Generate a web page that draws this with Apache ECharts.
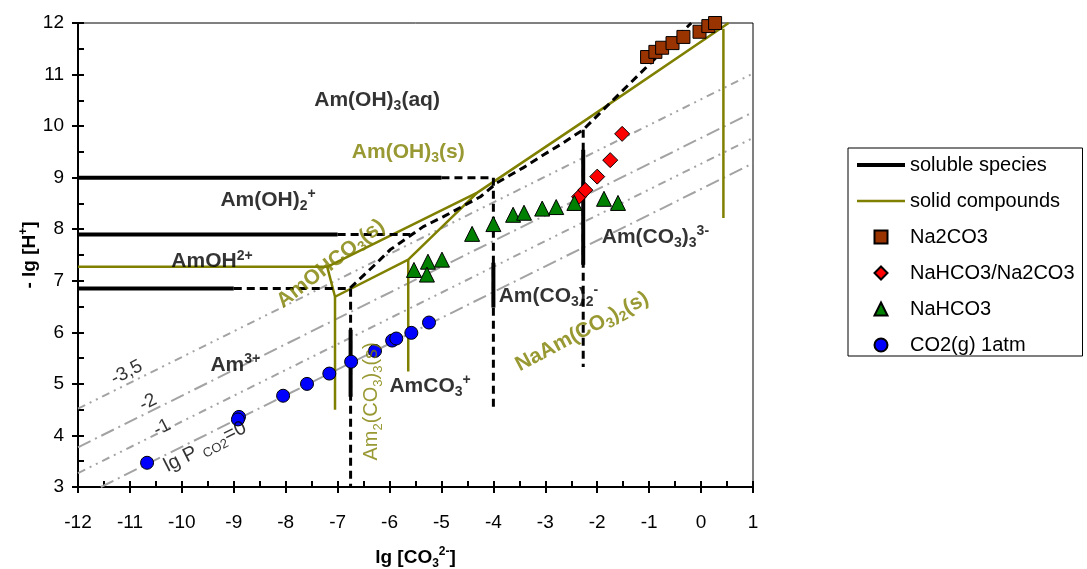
<!DOCTYPE html>
<html>
<head>
<meta charset="utf-8">
<script src="https://cdn.jsdelivr.net/npm/echarts@6/dist/echarts.min.js"></script>
<style>
html,body{margin:0;padding:0;background:#fff;}
#chart{width:1087px;height:569px;}
</style>
</head>
<body>
<div id="chart"></div>
<script>
// Axis ranges: x = lg[CO3 2-], y = -lg[H+]
const xRange = [-12, 1];
const yRange = [3, 12];

// Measured points
const na2co3 = [[-1.04,11.34],[-0.88,11.44],[-0.75,11.52],[-0.55,11.61],[-0.34,11.73],[-0.03,11.83],[0.14,11.94],[0.27,12.0]];
const nahco3Na2co3 = [[-2.35,8.63],[-2.23,8.76],[-2.00,9.02],[-1.75,9.34],[-1.52,9.85]];
const nahco3 = [[-5.53,7.21],[-5.26,7.37],[-4.99,7.41],[-5.28,7.12],[-4.41,7.91],[-4.00,8.10],[-3.62,8.28],[-3.41,8.32],[-3.06,8.40],[-2.79,8.43],[-2.44,8.51],[-1.87,8.59],[-1.60,8.51]];
const co2Gas = [[-10.67,3.47],[-8.90,4.36],[-8.92,4.31],[-8.05,4.77],[-7.59,5.00],[-7.16,5.20],[-6.74,5.43],[-6.28,5.64],[-5.95,5.84],[-5.87,5.88],[-5.58,5.99],[-5.24,6.19]];

// Predominance boundaries of dissolved species (solid parts)
const solubleSolid = [
  [[-12,9.0],[-5.0,9.0]],
  [[-12,7.9],[-7.0,7.9]],
  [[-12,6.85],[-9.0,6.85]],
  [[-6.75,6.05],[-6.75,4.75]],
  [[-4.0,7.35],[-4.0,6.48]],
  [[-2.27,9.54],[-2.27,7.31]]
];
// Predominance boundaries of dissolved species (dashed parts)
const solubleDashed = [
  [[-5.0,9.0],[-4.0,9.0],[-4.0,4.5]],
  [[-7.0,7.9],[-5.6,7.9]],
  [[-9.0,6.85],[-6.75,6.85],[-6.75,3.0]],
  [[-2.27,9.93],[-2.27,5.33]],
  [[-6.76,6.86],[-6.24,7.35],[-5.99,7.60],[-5.35,8.05],[-4.97,8.24],[-4.25,8.63],[-3.93,8.90],[-3.43,9.19],[-3.04,9.44],[-2.71,9.64],[-2.27,9.93],[-1.69,10.51],[-0.19,12.0]]
];
// Stability fields of solid phases
const solidCompounds = [
  [[-12,7.27],[-7.2,7.27],[-4.31,8.71],[-2.19,10.14],[0.53,12.0]],
  [[-7.2,7.27],[-7.05,6.69],[-5.64,7.41],[-4.31,8.71]],
  [[-7.05,6.69],[-7.05,4.5]],
  [[-5.64,7.41],[-5.64,5.24]],
  [[0.43,11.89],[0.43,8.22]]
];
// Iso-lines of CO2 partial pressure (lg P values and end points)
const pco2Levels = ['-3.5','-2','-1','0'];
const pco2Lines = [
  [[-12,4.52],[1,11.02]],
  [[-12,3.77],[1,10.27]],
  [[-12,3.27],[1,9.77]],
  [[-11.56,3.0],[1,9.28]]
];

const F = 'Liberation Sans, Arial, Helvetica, sans-serif';
const OLIVE = '#808000';
const GRAY = '#a3a3a3';

function richSet(color, weight, size) {
  return {
    m: {fontFamily:F, fontWeight:weight, fontSize:size, color:color, lineHeight:26, verticalAlign:'middle'},
    s: {fontFamily:F, fontWeight:weight, fontSize:Math.round(size*0.65), color:color, lineHeight:12, verticalAlign:'bottom'},
    p: {fontFamily:F, fontWeight:weight, fontSize:Math.round(size*0.65), color:color, lineHeight:12, verticalAlign:'top'}
  };
}

// Field and line annotations: [x, y, rich text, colour, weight, size, rotation]
const annotations = [
  [-6.24,10.51,'{m|Am(OH)}{s|3}{m|(aq)}','#000','bold',21,0],
  [-5.64,9.50,'{m|Am(OH)}{s|3}{m|(s)}',OLIVE,'bold',21,0],
  [-8.34,8.57,'{m|Am(OH)}{s|2}{p|+}','#000','bold',21,0],
  [-9.42,7.37,'{m|AmOH}{p|2+}','#000','bold',21,0],
  [-8.97,5.37,'{m|Am}{p|3+}','#000','bold',21,0],
  [-5.22,4.95,'{m|AmCO}{s|3}{p|+}','#000','bold',21,0],
  [-2.94,6.71,'{m|Am(CO}{s|3}{m|)}{s|2}{p|-}','#000','bold',21,0],
  [-0.88,7.85,'{m|Am(CO}{s|3}{m|)}{s|3}{p|3-}','#000','bold',21,0],
  [-7.13,7.33,'{m|AmOHCO}{s|3}{m|(s)}',OLIVE,'bold',21,38],
  [-6.34,4.66,'{m|Am}{s|2}{m|(CO}{s|3}{m|)}{s|3}{m|(s)}',OLIVE,'normal',20,90],
  [-2.29,6.01,'{m|NaAm(CO}{s|3}{m|)}{s|2}{m|(s)}',OLIVE,'bold',21,28],
  [-11.06,5.22,'{m|-3,5}','#000','normal',19,27],
  [-10.65,4.64,'{m|-2}','#000','normal',19,27],
  [-10.38,4.15,'{m|-1}','#000','normal',19,27],
  [-9.55,3.78,'{m|lg P }{s|CO2}{m|=0}','#000','normal',20,27]
];

// Legend icon outlines (unit shapes, kept square in the legend)
const ICON_SQUARE = 'path://M0,0L10,0L10,10L0,10Z';
const ICON_DIAMOND = 'path://M5,0L10,5L5,10L0,5Z';
const ICON_TRIANGLE = 'path://M5,0L10,10L0,10Z';
const ICON_CIRCLE = 'path://M0,5A5,5 0 1 1 10,5A5,5 0 1 1 0,5Z';

const chart = echarts.init(document.getElementById('chart'), null, {renderer:'canvas'});

const series = [];
const pco2Dash = [[8,5,2,5,2,5],[14,5,2,5],[8,5,2,5,2,5],[14,5,2,5]];
pco2Lines.forEach((pts, i) => {
  series.push({
    type:'line', name:'lg P CO2 ' + pco2Levels[i], data:pts, symbol:'none', silent:true, z:1,
    lineStyle:{color:GRAY, width:2, type:pco2Dash[i]}
  });
});
solidCompounds.forEach(pts => {
  series.push({
    type:'line', name:'solid compounds', data:pts, symbol:'none', silent:true, z:2,
    lineStyle:{color:OLIVE, width:2.5}, itemStyle:{color:OLIVE}
  });
});
solubleDashed.forEach(pts => {
  series.push({
    type:'line', name:'soluble boundary', data:pts, symbol:'none', silent:true, z:3,
    lineStyle:{color:'#000', width:3, type:[8,5]}
  });
});
solubleSolid.forEach(pts => {
  series.push({
    type:'line', name:'soluble species', data:pts, symbol:'none', silent:true, z:4,
    lineStyle:{color:'#000', width:4}, itemStyle:{color:'#000'}
  });
});
const markerBorder = {borderColor:'#000', borderWidth:1};
series.push({type:'scatter', name:'Na2CO3', data:na2co3, symbol:'rect', symbolSize:13, clip:false, z:6,
  itemStyle:Object.assign({color:'#993300', opacity:1}, markerBorder)});
series.push({type:'scatter', name:'NaHCO3/Na2CO3', data:nahco3Na2co3, symbol:'diamond', symbolSize:15, clip:false, z:6,
  itemStyle:Object.assign({color:'#ff0000', opacity:1}, markerBorder)});
series.push({type:'scatter', name:'NaHCO3', data:nahco3, symbol:'triangle', symbolSize:15, clip:false, z:6,
  itemStyle:Object.assign({color:'#008000', opacity:1}, markerBorder)});
series.push({type:'scatter', name:'CO2(g) 1atm', data:co2Gas, symbol:'circle', symbolSize:13, clip:false, z:6,
  itemStyle:Object.assign({color:'#0000ff', opacity:1}, markerBorder)});

series.push({
  type:'scatter', name:'annotations', symbolSize:0, silent:true, clip:false, z:8,
  data: annotations.map(a => ({
    value:[a[0], a[1]],
    label:{show:true, position:'inside', color:a[3], formatter:a[2], rotate:a[6], rich:richSet(a[3], a[4], a[5])}
  }))
});

const axisCommon = {type:'value', splitLine:{show:false}, axisPointer:{show:false}};
const xMain = Object.assign({}, axisCommon, {
  position:'bottom', min:xRange[0], max:xRange[1], interval:1,
  axisLine:{show:true, onZero:false, lineStyle:{color:'#000', width:2}},
  axisTick:{show:true, inside:false, length:6, lineStyle:{color:'#000', width:2}},
  axisLabel:{show:true, margin:26, color:'#000', fontFamily:F, fontSize:19},
  name:'{n|lg [CO}{s|3}{p|2-}{n|]}', nameLocation:'middle', nameGap:59, nameMoveOverlap:false,
  nameTextStyle:{rich:{
    n:{fontFamily:F, fontWeight:'bold', fontSize:19, color:'#000', lineHeight:24, verticalAlign:'middle'},
    s:{fontFamily:F, fontWeight:'bold', fontSize:12, color:'#000', lineHeight:12, verticalAlign:'bottom'},
    p:{fontFamily:F, fontWeight:'bold', fontSize:12, color:'#000', lineHeight:12, verticalAlign:'top'}
  }}
});
const xInner = Object.assign({}, axisCommon, {
  position:'bottom', min:xRange[0], max:xRange[1], interval:1,
  axisLine:{show:false, onZero:false},
  axisTick:{show:true, inside:true, length:6, lineStyle:{color:'#000', width:2}},
  minorTick:{show:true, splitNumber:2, length:6, lineStyle:{color:'#000', width:2}},
  axisLabel:{show:false}
});
const yMain = Object.assign({}, axisCommon, {
  position:'left', min:yRange[0], max:yRange[1], interval:1,
  axisLine:{show:true, onZero:false, lineStyle:{color:'#000', width:2}},
  axisTick:{show:true, inside:false, length:6, lineStyle:{color:'#000', width:2}},
  axisLabel:{show:true, margin:14, color:'#000', fontFamily:F, fontSize:19},
  name:'{n|- lg [H}{p|+}{n|]}', nameLocation:'middle', nameGap:36, nameRotate:90, nameMoveOverlap:false,
  nameTextStyle:{rich:{
    n:{fontFamily:F, fontWeight:'bold', fontSize:19, color:'#000', lineHeight:24, verticalAlign:'middle'},
    p:{fontFamily:F, fontWeight:'bold', fontSize:12, color:'#000', lineHeight:12, verticalAlign:'top'}
  }}
});
const yInner = Object.assign({}, axisCommon, {
  position:'left', min:yRange[0], max:yRange[1], interval:1,
  axisLine:{show:false, onZero:false},
  axisTick:{show:true, inside:true, length:6, lineStyle:{color:'#000', width:2}},
  minorTick:{show:true, splitNumber:2, length:6, lineStyle:{color:'#000', width:2}},
  axisLabel:{show:false}
});

chart.setOption({
  animation:false,
  backgroundColor:'#fff',
  grid:{left:78, right:334, top:23, bottom:82, show:true, borderColor:'#000', borderWidth:1,
    backgroundColor:'transparent', containLabel:false, outerBoundsMode:'none'},
  xAxis:[xMain, xInner],
  yAxis:[yMain, yInner],
  legend:{
    show:true, orient:'vertical', left:848, top:148,
    padding:[7,8,1,7], itemWidth:48, itemHeight:13, itemGap:16,
    symbolKeepAspect:true,
    borderColor:'#000', borderWidth:1, backgroundColor:'#fff',
    selectedMode:false,
    textStyle:{fontFamily:F, fontSize:20, color:'#000'},
    data:[
      {name:'soluble species', itemStyle:{opacity:0}, lineStyle:{width:4, color:'#000'}},
      {name:'solid compounds', itemStyle:{opacity:0}, lineStyle:{width:2.5, color:OLIVE}},
      {name:'Na2CO3', icon:ICON_SQUARE},
      {name:'NaHCO3/Na2CO3', icon:ICON_DIAMOND},
      {name:'NaHCO3', icon:ICON_TRIANGLE},
      {name:'CO2(g) 1atm', icon:ICON_CIRCLE}
    ]
  },
  series:series
});
</script>
</body>
</html>
